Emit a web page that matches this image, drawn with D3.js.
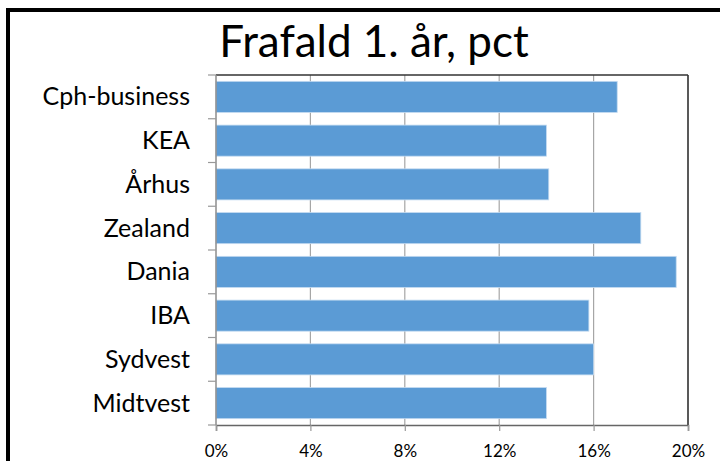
<!DOCTYPE html>
<html>
<head>
<meta charset="utf-8">
<script src="https://cdn.jsdelivr.net/npm/d3@7"></script>
<style>
  html, body { margin: 0; padding: 0; background: #fff; }
  svg { display: block; font-family: Lato, "Open Sans", sans-serif; }
</style>
</head>
<body>
<div id="chart"></div>
<script>
// data
const schools = ["Cph-business", "KEA", "Århus", "Zealand", "Dania", "IBA", "Sydvest", "Midtvest"];
const dropout = [0.170, 0.140, 0.141, 0.180, 0.195, 0.158, 0.160, 0.140];
const xTicks = [0, 0.04, 0.08, 0.12, 0.16, 0.20];
const chartTitle = "Frafald 1. år, pct";

const width = 720, height = 461;
const plot = { left: 216, right: 688, top: 75, bottom: 425 };

const svg = d3.select("#chart").append("svg")
  .attr("width", width)
  .attr("height", height);

svg.append("rect")
  .attr("width", width).attr("height", height)
  .attr("fill", "#fff");

// outer chart frame (runs off the right and bottom edge)
svg.append("rect")
  .attr("x", 8).attr("y", 10)
  .attr("width", 760).attr("height", 520)
  .attr("fill", "none")
  .attr("stroke", "#000")
  .attr("stroke-width", 4);

const x = d3.scaleLinear().domain([0, 0.20]).range([plot.left, plot.right]);
const y = d3.scaleBand().domain(schools).range([plot.top, plot.bottom])
  .paddingInner(0.29).paddingOuter(0.145);

// vertical gridlines
svg.append("g").selectAll("line")
  .data(xTicks.slice(1))
  .enter().append("line")
  .attr("x1", d => x(d)).attr("x2", d => x(d))
  .attr("y1", plot.top).attr("y2", plot.bottom)
  .attr("stroke", "#a6a6a6")
  .attr("stroke-width", 1.2);

// bars
svg.append("g").selectAll("rect")
  .data(schools)
  .enter().append("rect")
  .attr("x", x(0))
  .attr("y", d => y(d))
  .attr("width", (d, i) => x(dropout[i]) - x(0))
  .attr("height", y.bandwidth())
  .attr("fill", "#5b9bd5")
  .attr("stroke", "#c3daf0")
  .attr("stroke-width", 0.8);

// plot border: top and right dark
svg.append("line")
  .attr("x1", plot.left).attr("x2", plot.right)
  .attr("y1", plot.top).attr("y2", plot.top)
  .attr("stroke", "#333").attr("stroke-width", 1.5);
svg.append("line")
  .attr("x1", plot.right).attr("x2", plot.right)
  .attr("y1", plot.top).attr("y2", plot.bottom)
  .attr("stroke", "#333").attr("stroke-width", 1.5);

// x axis
const xAxis = svg.append("g")
  .attr("transform", `translate(0,${plot.bottom})`)
  .call(d3.axisBottom(x).tickValues(xTicks).tickFormat(d3.format(".0%"))
    .tickSize(6).tickPadding(14));
xAxis.select(".domain").attr("stroke", "#666").attr("stroke-width", 1.5);
xAxis.selectAll(".tick line").attr("stroke", "#999").attr("stroke-width", 1.2);
xAxis.selectAll(".tick text")
  .attr("fill", "#000")
  .attr("dy", null)
  .attr("y", 32)
  .style("font-size", "17px")
  .style("font-family", "Lato, sans-serif");

// y axis: line plus ticks on category boundaries
svg.append("line")
  .attr("x1", plot.left).attr("x2", plot.left)
  .attr("y1", plot.top).attr("y2", plot.bottom)
  .attr("stroke", "#8c8c8c").attr("stroke-width", 1.5);

const step = y.step();
const bounds = d3.range(schools.length + 1).map(i => plot.top + i * step);
svg.append("g").selectAll("line")
  .data(bounds)
  .enter().append("line")
  .attr("x1", plot.left - 8).attr("x2", plot.left)
  .attr("y1", d => d).attr("y2", d => d)
  .attr("stroke", "#999").attr("stroke-width", 1.2);

svg.append("g").selectAll("text")
  .data(schools)
  .enter().append("text")
  .attr("x", 190)
  .attr("y", d => y(d) + y.bandwidth() / 2 + 8.6)
  .attr("text-anchor", "end")
  .style("font-size", "25px")
  .attr("fill", "#000")
  .text(d => d);

// title
svg.append("text")
  .attr("x", 374)
  .attr("y", 57)
  .attr("text-anchor", "middle")
  .style("font-size", "44px")
  .attr("fill", "#000")
  .text(chartTitle);
</script>
</body>
</html>
